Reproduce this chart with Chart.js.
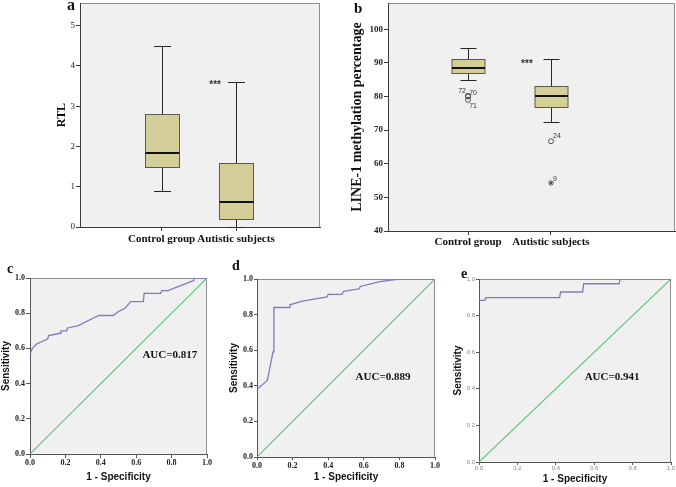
<!DOCTYPE html>
<html>
<head>
<meta charset="utf-8">
<script src="https://cdn.jsdelivr.net/npm/chart.js@4.4.0/dist/chart.umd.min.js"></script>
<style>
  body { margin: 0; background: #fff; width: 676px; height: 487px; position: relative; overflow: hidden; }
  canvas { position: absolute; }
</style>
</head>
<body>
<canvas id="chartA" width="330" height="250" style="left:0;top:0"></canvas>
<canvas id="chartB" width="346" height="250" style="left:330px;top:0"></canvas>
<canvas id="chartC" width="220" height="237" style="left:0;top:250px"></canvas>
<canvas id="chartD" width="226" height="237" style="left:220px;top:250px"></canvas>
<canvas id="chartE" width="230" height="237" style="left:446px;top:250px"></canvas>
<script>
const groups = ["Control group", "Autistic subjects"];

// panel a: RTL
const rtlMin = [0.9, 0.01];
const rtlQ1 = [1.5, 0.2];
const rtlMed = [1.85, 0.63];
const rtlQ3 = [2.8, 1.6];
const rtlMax = [4.5, 3.6];
const rtlTicks = [0, 1, 2, 3, 4, 5];

// panel b: LINE-1 methylation
const lineMin = [85, 72.3];
const lineQ1 = [87, 77];
const lineMed = [88.5, 80];
const lineQ3 = [91, 83.2];
const lineMax = [94.3, 91];
const lineTicks = [40, 50, 60, 70, 80, 90, 100];
const outGroup = [1, 1, 1, 2, 2];
const outValue = [80.2, 80.0, 79.0, 66.7, 54.3];
const outCase = ["72", "70", "71", "24", "9"];
const outExtreme = [false, false, false, false, true];

// ROC curves
const rocTicks = [0, 0.2, 0.4, 0.6, 0.8, 1];
const diag = [0, 1];
const fprC = [0, 0.013, 0.038, 0.10, 0.105, 0.17, 0.175, 0.207, 0.212, 0.273, 0.367, 0.39, 0.47, 0.50, 0.537, 0.569, 0.64, 0.645, 0.738, 0.745, 0.78, 0.923, 0.925, 1];
const tprC = [0.565, 0.60, 0.625, 0.654, 0.673, 0.686, 0.70, 0.70, 0.716, 0.73, 0.777, 0.787, 0.787, 0.81, 0.828, 0.866, 0.866, 0.913, 0.913, 0.928, 0.928, 0.985, 1, 1];
const fprD = [0, 0.058, 0.09, 0.095, 0.18, 0.185, 0.254, 0.394, 0.40, 0.478, 0.486, 0.575, 0.58, 0.69, 0.80, 1];
const tprD = [0.38, 0.43, 0.59, 0.84, 0.84, 0.855, 0.876, 0.90, 0.914, 0.914, 0.93, 0.945, 0.958, 0.985, 1, 1];
const fprE = [0, 0.031, 0.035, 0.42, 0.425, 0.54, 0.545, 0.73, 0.735, 1];
const tprE = [0.883, 0.883, 0.898, 0.898, 0.929, 0.929, 0.974, 0.974, 1, 1];

const SERIF = '"Liberation Serif", "Times New Roman", serif';
const SANS = '"Liberation Sans", Arial, sans-serif';

Chart.defaults.animation = false;
Chart.defaults.plugins.legend.display = false;
Chart.defaults.plugins.tooltip.enabled = false;

// grey plot area with light top/right frame, like SPSS
const frame = {
  id: "frame",
  beforeDraw(chart) {
    const { ctx, chartArea: c } = chart;
    ctx.save();
    ctx.fillStyle = "#f0f0f0";
    ctx.fillRect(c.left, c.top, c.right - c.left, c.bottom - c.top);
    ctx.strokeStyle = "#8f8f8f";
    ctx.lineWidth = 1;
    ctx.beginPath();
    ctx.moveTo(c.left, Math.round(c.top) + 0.5);
    ctx.lineTo(Math.round(c.right) - 0.5, Math.round(c.top) + 0.5);
    ctx.lineTo(Math.round(c.right) - 0.5, c.bottom);
    ctx.stroke();
    ctx.restore();
  }
};

function boxes(mins, q1, med, q3, maxs, half, cap) {
  return {
    id: "boxes",
    beforeDatasetsDraw(chart) {
      const { ctx, scales: { x, y } } = chart;
      ctx.save();
      groups.forEach((g, i) => {
        const cx = Math.round(x.getPixelForValue(i + 1)) + 0.5;
        const top = Math.round(y.getPixelForValue(maxs[i])) + 0.5;
        const bot = Math.round(y.getPixelForValue(mins[i])) + 0.5;
        const b1 = Math.round(y.getPixelForValue(q1[i])) + 0.5;
        const b3 = Math.round(y.getPixelForValue(q3[i])) + 0.5;
        const m = Math.round(y.getPixelForValue(med[i]));
        ctx.strokeStyle = "#262626";
        ctx.lineWidth = 1;
        ctx.beginPath();
        ctx.moveTo(cx, top); ctx.lineTo(cx, b3);
        ctx.moveTo(cx, b1); ctx.lineTo(cx, bot);
        ctx.moveTo(cx - cap, top); ctx.lineTo(cx + cap, top);
        ctx.moveTo(cx - cap, bot); ctx.lineTo(cx + cap, bot);
        ctx.stroke();
        ctx.fillStyle = "#d4cf99";
        ctx.fillRect(cx - half, b3, half * 2, b1 - b3);
        ctx.strokeStyle = "#5a5a4a";
        ctx.strokeRect(cx - half, b3, half * 2, b1 - b3);
        ctx.strokeStyle = "#111";
        ctx.lineWidth = 2;
        ctx.beginPath();
        ctx.moveTo(cx - half, m); ctx.lineTo(cx + half, m);
        ctx.stroke();
      });
      ctx.restore();
    }
  };
}

// text: panel letters in pixels, other notes at data positions
function notes(items) {
  return {
    id: "notes",
    afterDraw(chart) {
      const { ctx, scales: { x, y } } = chart;
      ctx.save();
      items.forEach(n => {
        const px = n.px !== undefined ? n.px : x.getPixelForValue(n.x) + (n.dx || 0);
        const py = n.py !== undefined ? n.py : y.getPixelForValue(n.y) + (n.dy || 0);
        ctx.font = n.font;
        ctx.fillStyle = n.color || "#111";
        ctx.textAlign = n.align || "center";
        ctx.textBaseline = n.base || "middle";
        ctx.fillText(n.text, px, py);
      });
      ctx.restore();
    }
  };
}

function fixedTicks(list) {
  return (s) => { s.ticks = list.map(v => ({ value: v })); };
}

// ---------- box plots ----------
function boxOptions(L) {
  return {
    responsive: false,
    devicePixelRatio: 1,
    events: [],
    layout: { autoPadding: false, padding: { left: 0, right: L.padRight, top: L.padTop, bottom: 0 } },
    scales: {
      x: {
        type: "linear",
        min: L.xMin, max: L.xMax,
        afterBuildTicks: fixedTicks([1, 2]),
        afterFit: (s) => { s.height = L.xHeight; },
        border: { color: "#3a3a3a" },
        grid: { drawOnChartArea: false, tickLength: L.tickLen, color: "#3a3a3a" },
        ticks: {
          autoSkip: false, maxRotation: 0, minRotation: 0, padding: L.xPad,
          color: "#111",
          font: { family: SERIF, size: 11, weight: "bold" },
          callback: (v) => groups[v - 1]
        }
      },
      y: {
        min: L.yMin, max: L.yMax,
        afterBuildTicks: fixedTicks(L.ticks),
        afterFit: (s) => { s.width = L.yWidth; s.paddingTop = 0; s.paddingBottom = 0; },
        border: { color: "#3a3a3a" },
        grid: { drawOnChartArea: false, tickLength: 4, color: "#3a3a3a" },
        ticks: { padding: 1, color: "#222", font: { family: SERIF, size: 9, weight: L.tickWeight, lineHeight: 0.5 } },
        title: {
          display: true, text: L.title, color: "#111",
          font: { family: SERIF, size: L.titleSize, weight: "bold" },
          padding: { top: L.titlePad, bottom: 0 }
        }
      }
    }
  };
}

new Chart(document.getElementById("chartA"), {
  type: "scatter",
  data: { datasets: [] },
  options: boxOptions({
    padRight: 10, padTop: 3, xHeight: 23, yWidth: 80, tickLen: 4, xPad: 2,
    xMin: -0.097, xMax: 3.129, yMin: 0, yMax: 5.565, ticks: rtlTicks,
    title: "RTL", titleSize: 12, titlePad: 55, tickWeight: "normal"
  }),
  plugins: [
    frame,
    boxes(rtlMin, rtlQ1, rtlMed, rtlQ3, rtlMax, 17, 8.5),
    notes([
      { text: "a", px: 67, py: 10, font: "bold 16px " + SERIF, align: "left", base: "alphabetic" },
      { text: "***", x: 1.72, y: 3.52, font: "bold 10px " + SANS, color: "#333" }
    ])
  ]
});

new Chart(document.getElementById("chartB"), {
  type: "scatter",
  data: {
    datasets: [{
      data: outGroup.map((g, i) => ({ x: g, y: outValue[i] })),
      pointStyle: outExtreme.map(e => (e ? "star" : "circle")),
      pointRadius: outExtreme.map(e => (e ? 3 : 2.5)),
      borderColor: "#444",
      backgroundColor: "rgba(0,0,0,0)",
      borderWidth: 0.9
    }]
  },
  options: boxOptions({
    padRight: 1, padTop: 3, xHeight: 19, yWidth: 58, tickLen: 4, xPad: 1,
    xMin: 0.035, xMax: 3.495, yMin: 40, yMax: 107.8, ticks: lineTicks,
    title: "LINE-1 methylation percentage", titleSize: 14, titlePad: 19, tickWeight: "bold"
  }),
  plugins: [
    frame,
    boxes(lineMin, lineQ1, lineMed, lineQ3, lineMax, 16.5, 8),
    notes([
      { text: "b", px: 24, py: 13, font: "bold 15px " + SERIF, align: "left", base: "alphabetic" },
      { text: "***", x: 1.71, y: 89.6, font: "bold 10px " + SANS, color: "#333" }
    ].concat(outCase.map((c, i) => ({
      text: c, x: outGroup[i], y: outValue[i],
      dx: [-6, 5, 5, 6, 4][i], dy: [-5, -3, 6, -5, -4][i],
      font: "7px " + SANS, color: "#333"
    }))))
  ]
});

// ---------- ROC curves ----------
function rocChart(id, fpr, tpr, auc, L) {
  new Chart(document.getElementById(id), {
    type: "scatter",
    data: {
      datasets: [
        {
          data: fpr.map((v, i) => ({ x: v, y: tpr[i] })),
          showLine: true, borderColor: "#7c7cbe", backgroundColor: "#7c7cbe",
          borderWidth: 1.3, pointRadius: 0
        },
        {
          data: diag.map(v => ({ x: v, y: v })),
          showLine: true, borderColor: "#55c472", backgroundColor: "#55c472",
          borderWidth: 1.1, pointRadius: 0
        }
      ]
    },
    options: {
      responsive: false,
      devicePixelRatio: 1,
      events: [],
      layout: { autoPadding: false, padding: { left: 0, right: L.padRight, top: L.padTop, bottom: 0 } },
      scales: {
        x: {
          min: 0, max: 1,
          afterBuildTicks: fixedTicks(rocTicks),
          afterFit: (s) => { s.height = L.xHeight; },
          border: { color: "#555" },
          grid: { drawOnChartArea: false, tickLength: L.tickLen, color: "#555" },
          ticks: {
            autoSkip: false, maxRotation: 0, padding: L.xTickPad, color: L.tickColor,
            font: L.tickFont, callback: (v) => v.toFixed(1)
          },
          title: {
            display: true, text: "1 - Specificity", color: "#111",
            font: { family: SANS, size: 10, weight: "bold" },
            padding: { top: 0, bottom: L.xTitlePad }
          }
        },
        y: {
          min: 0, max: 1,
          afterBuildTicks: fixedTicks(rocTicks),
          afterFit: (s) => { s.width = L.yWidth; },
          border: { color: "#555" },
          grid: { drawOnChartArea: false, tickLength: L.tickLen, color: "#555" },
          ticks: { padding: 1, color: L.tickColor, font: L.tickFont, callback: (v) => v.toFixed(1) },
          title: {
            display: true, text: "Sensitivity", color: "#111",
            font: { family: SANS, size: 10, weight: "bold" },
            padding: { top: L.yTitlePad, bottom: 0 }
          }
        }
      }
    },
    plugins: [
      frame,
      notes([
        { text: L.letter, px: L.letterX, py: L.letterY, font: "bold 14px " + SERIF, align: "left", base: "alphabetic" },
        { text: auc, x: L.aucX, y: L.aucY, font: "bold 11px " + SERIF }
      ])
    ]
  });
}

const boldTick = { family: SERIF, size: 8, weight: "bold" };

rocChart("chartC", fprC, tprC, "AUC=0.817", {
  padRight: 13, padTop: 28, xHeight: 33, yWidth: 30, tickLen: 4, xTickPad: 0,
  xTitlePad: 4, yTitlePad: 0, tickFont: boldTick, tickColor: "#222",
  letter: "c", letterX: 7, letterY: 23, aucX: 0.79, aucY: 0.56
});

rocChart("chartD", fprD, tprD, "AUC=0.889", {
  padRight: 11, padTop: 29, xHeight: 30, yWidth: 37, tickLen: 3, xTickPad: 1,
  xTitlePad: 4, yTitlePad: 8, tickFont: boldTick, tickColor: "#222",
  letter: "d", letterX: 12, letterY: 20, aucX: 0.708, aucY: 0.449
});

rocChart("chartE", fprE, tprE, "AUC=0.941", {
  padRight: 5, padTop: 29, xHeight: 25, yWidth: 33, tickLen: 3, xTickPad: 0,
  xTitlePad: 2, yTitlePad: 6, tickFont: { family: SANS, size: 6 }, tickColor: "#888",
  letter: "e", letterX: 15, letterY: 28, aucX: 0.693, aucY: 0.466
});
</script>
</body>
</html>
